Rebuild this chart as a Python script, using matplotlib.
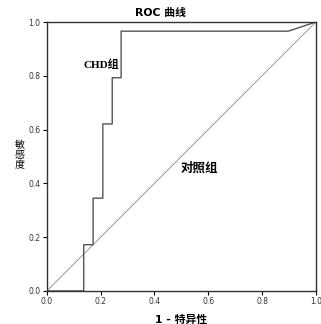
import numpy as np
import matplotlib
matplotlib.use('Agg')
import matplotlib.pyplot as plt

plt.rcParams['font.family'] = ['DejaVu Sans', 'Noto Sans CJK SC']

# ROC curve
fpr = [0.0, 0.137, 0.137, 0.172, 0.172, 0.208, 0.208, 0.243, 0.243, 0.276, 0.276, 0.897, 1.0]
tpr = [0.0, 0.0, 0.172, 0.172, 0.345, 0.345, 0.621, 0.621, 0.793, 0.793, 0.966, 0.966, 1.0]
ref = [0.0, 1.0]
ticks = [0.0, 0.2, 0.4, 0.6, 0.8, 1.0]
ylabel_chars = ['敏', '感', '度']

fig = plt.figure(figsize=(3.21, 3.24), dpi=100)
ax = fig.add_axes([0.146, 0.102, 0.838, 0.83])

ax.plot(ref, ref, color='#9a9a9a', lw=0.7)
ax.plot(fpr, tpr, color='#555555', lw=1.0)

ax.set_xlim(0, 1)
ax.set_ylim(0, 1)
ax.set_xticks(ticks)
ax.set_yticks(ticks)
ax.set_xticklabels(['%.1f' % t for t in ticks])
ax.set_yticklabels(['%.1f' % t for t in ticks])
ax.tick_params(labelsize=5.5, labelcolor='#333333', length=3, width=0.8, pad=1.5)
for s in ax.spines.values():
    s.set_linewidth(1.0)
    s.set_color('#333333')

fig.text(0.5, 0.96, 'ROC 曲线', fontsize=7.8, fontweight='bold', ha='center', va='center',
         family=['DejaVu Sans', 'Noto Sans CJK SC'])
ax.set_xlabel('1 - 特异性', fontsize=7.8, fontweight='bold', labelpad=6,
              family=['DejaVu Sans', 'Noto Sans CJK SC'])
# vertical stacked y label, one character per line
for i, ch in enumerate(ylabel_chars):
    fig.text(20 / 321, 1 - (145 + i * 10) / 324, ch, fontsize=7.2, ha='center', va='center',
             family=['Noto Sans CJK SC'])

ax.text(0.27, 0.843, 'CHD组', fontsize=8, fontweight='bold', ha='right', va='center',
        family=['Liberation Serif', 'Noto Sans CJK SC'])
ax.text(0.565, 0.455, '对照组', fontsize=9, fontweight='bold', ha='center', va='center',
        family=['Noto Sans CJK SC'])

fig.savefig('out.png', dpi=100)
